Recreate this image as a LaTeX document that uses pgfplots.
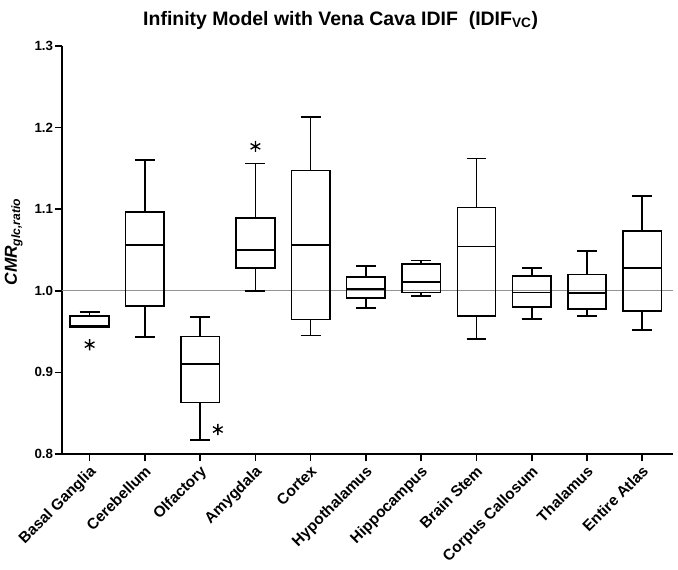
\documentclass[border=0pt]{standalone}
\usepackage{fontspec}
\setmainfont{Liberation Sans}
\usepackage{pgfplots}
\pgfplotsset{compat=1.18}
\usepgfplotslibrary{statistics}

\pgfplotsset{
  bx/.style={black, line width=1.3pt, solid},
  bxthin/.style={black, line width=0.9pt, solid},
}

\begin{document}
\begin{tikzpicture}
\useasboundingbox (-46.5pt,-87pt) rectangle (462pt,340.5pt);
\begin{axis}[
  at={(0,0)}, anchor=south west,
  scale only axis, width=458pt, height=306pt,
  boxplot/draw direction=y,
  xmin=-0.5, xmax=10.55, ymin=0.8, ymax=1.3,
  axis lines=left, axis line style={-, line width=1.2pt},
  clip=false,
  ytick={0.8,0.9,1.0,1.1,1.2,1.3},
  yticklabel style={/pgf/number format/fixed, /pgf/number format/fixed zerofill,
    /pgf/number format/precision=1, /pgf/number format/assume math mode=true,
    font=\bfseries\fontsize{10}{12}\selectfont, inner sep=1pt},
  xtick={0,...,10},
  xticklabels={Basal Ganglia, Cerebellum, Olfactory, Amygdala, Cortex, Hypothalamus,
    Hippocampus, Brain Stem, Corpus Callosum, Thalamus, Entire Atlas},
  xticklabel style={rotate=45, anchor=north east, font=\bfseries\fontsize{11.5}{13}\selectfont,
    inner sep=1pt, xshift=-1pt},
  tick align=outside, major tick length=5.5pt,
  tick style={black, line width=1.2pt},
  ylabel={\bfseries\itshape CMR\textsubscript{glc,ratio}},
  ylabel style={at={(axis description cs:-0.079,0.52)}, anchor=center, font=\fontsize{13}{15}\selectfont},
]
% reference line at 1.0
\addplot[gray!85, line width=0.8pt] coordinates {(-0.5,1) (10.55,1)};

% Basal Ganglia
\addplot[bx, boxplot prepared={draw position=0, lower whisker=0.955, lower quartile=0.955,
  median=0.957, upper quartile=0.969, upper whisker=0.974, box extend=0.7, whisker extend=0.36}] coordinates {};
% Cerebellum
\addplot[bx, boxplot prepared={draw position=1, lower whisker=0.943, lower quartile=0.981,
  median=1.056, upper quartile=1.097, upper whisker=1.160, box extend=0.7, whisker extend=0.36}] coordinates {};
% Olfactory
\addplot[bx, boxplot prepared={draw position=2, lower whisker=0.817, lower quartile=0.863,
  median=0.910, upper quartile=0.944, upper whisker=0.968, box extend=0.7, whisker extend=0.36}] coordinates {};
% Amygdala
\addplot[bx, boxplot prepared={draw position=3, lower whisker=1.000, lower quartile=1.028,
  median=1.050, upper quartile=1.089, upper whisker=1.156, box extend=0.7, whisker extend=0.36}] coordinates {};
% Cortex
\addplot[bxthin, boxplot prepared={draw position=4, lower whisker=0.945, lower quartile=0.965,
  median=1.056, upper quartile=1.147, upper whisker=1.213, box extend=0.7, whisker extend=0.36}] coordinates {};
% Hypothalamus
\addplot[bx, boxplot prepared={draw position=5, lower whisker=0.979, lower quartile=0.991,
  median=1.002, upper quartile=1.017, upper whisker=1.030, box extend=0.7, whisker extend=0.36}] coordinates {};
% Hippocampus
\addplot[bx, boxplot prepared={draw position=6, lower whisker=0.994, lower quartile=0.998,
  median=1.011, upper quartile=1.033, upper whisker=1.037, box extend=0.7, whisker extend=0.36}] coordinates {};
% Brain Stem
\addplot[bxthin, boxplot prepared={draw position=7, lower whisker=0.941, lower quartile=0.969,
  median=1.054, upper quartile=1.102, upper whisker=1.162, box extend=0.7, whisker extend=0.36}] coordinates {};
% Corpus Callosum
\addplot[bx, boxplot prepared={draw position=8, lower whisker=0.965, lower quartile=0.980,
  median=0.998, upper quartile=1.018, upper whisker=1.028, box extend=0.7, whisker extend=0.36}] coordinates {};
% Thalamus
\addplot[bx, boxplot prepared={draw position=9, lower whisker=0.969, lower quartile=0.978,
  median=0.997, upper quartile=1.020, upper whisker=1.049, box extend=0.7, whisker extend=0.36}] coordinates {};
% Entire Atlas
\addplot[bx, boxplot prepared={draw position=10, lower whisker=0.952, lower quartile=0.975,
  median=1.028, upper quartile=1.073, upper whisker=1.116, box extend=0.7, whisker extend=0.36}] coordinates {};

% significance asterisks
\addplot[only marks, mark=asterisk, mark size=4.2pt, black, line width=1pt]
  coordinates {(0,0.934) (2.32,0.830) (3,1.177)};
\end{axis}
\node[font=\bfseries\fontsize{14.6}{17}\selectfont] at (209pt,325.5pt)
  {Infinity Model with Vena Cava IDIF\ \ (IDIF\textsubscript{VC})};
\end{tikzpicture}
\end{document}
